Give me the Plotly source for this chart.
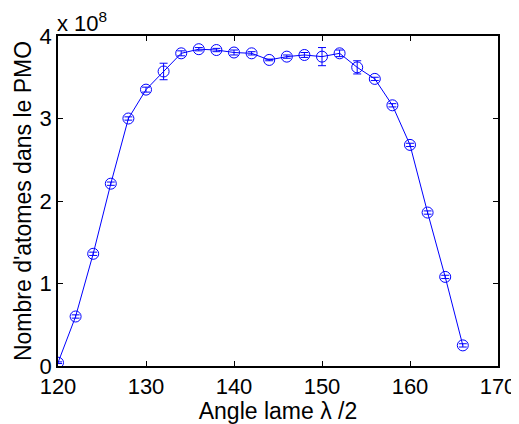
import plotly.graph_objects as go

angles = [120, 122, 124, 126, 128, 130, 132, 134, 136, 138, 140, 142,
          144, 146, 148, 150, 152, 154, 156, 158, 160, 162, 164, 166]
atoms_e8 = [0.04, 0.60, 1.36, 2.21, 3.00, 3.35, 3.57, 3.79, 3.84, 3.83, 3.80, 3.79,
            3.71, 3.75, 3.77, 3.75, 3.79, 3.62, 3.48, 3.16, 2.68, 1.86, 1.08, 0.25]
errors_e8 = [0.01, 0.02, 0.02, 0.02, 0.02, 0.03, 0.10, 0.03, 0.02, 0.02, 0.03, 0.02,
             0.01, 0.02, 0.03, 0.11, 0.04, 0.08, 0.02, 0.02, 0.02, 0.02, 0.02, 0.02]
xticks = [120, 130, 140, 150, 160, 170]
yticks = [0, 1, 2, 3, 4]

blue = "#0000ff"
font = "Liberation Sans, Arial, sans-serif"
fs_tick = 22
fs_title = 23

fig = go.Figure()
fig.add_trace(go.Scatter(
    x=angles, y=atoms_e8, mode="lines+markers",
    line=dict(color=blue, width=1),
    marker=dict(symbol="circle-open", size=11, color=blue, line=dict(width=1, color=blue)),
    error_y=dict(type="data", array=errors_e8, color=blue, thickness=1, width=4),
    showlegend=False,
))

axis_common = dict(showline=True, linecolor="black", linewidth=1.5, mirror="ticks",
                   ticks="inside", ticklen=5, tickcolor="black", showgrid=False,
                   zeroline=False, automargin=False,
                   tickfont=dict(family=font, size=fs_tick, color="black"))

fig.update_xaxes(range=[120, 170], tickvals=xticks, **axis_common,
                 title=dict(text="Angle lame λ /2", font=dict(family=font, size=fs_title, color="black"),
                            standoff=0))
fig.update_yaxes(range=[0, 4], tickvals=yticks, **axis_common,
                 title=dict(text="Nombre d'atomes dans le PMO", font=dict(family=font, size=fs_title, color="black"),
                            standoff=2))

fig.add_annotation(x=0, y=1, xref="paper", yref="paper", xanchor="left", yanchor="bottom",
                   text="x 10<sup>8</sup>", showarrow=False, xshift=-3, yshift=-2,
                   font=dict(family=font, size=fs_tick, color="black"))

# page body has an 8px default margin, so the figure is sized to fit the 519x424 window
fig.update_layout(width=511, height=416, plot_bgcolor="white", paper_bgcolor="white",
                  margin=dict(l=50, r=21, t=28, b=58))

fig.write_html("out.html")
